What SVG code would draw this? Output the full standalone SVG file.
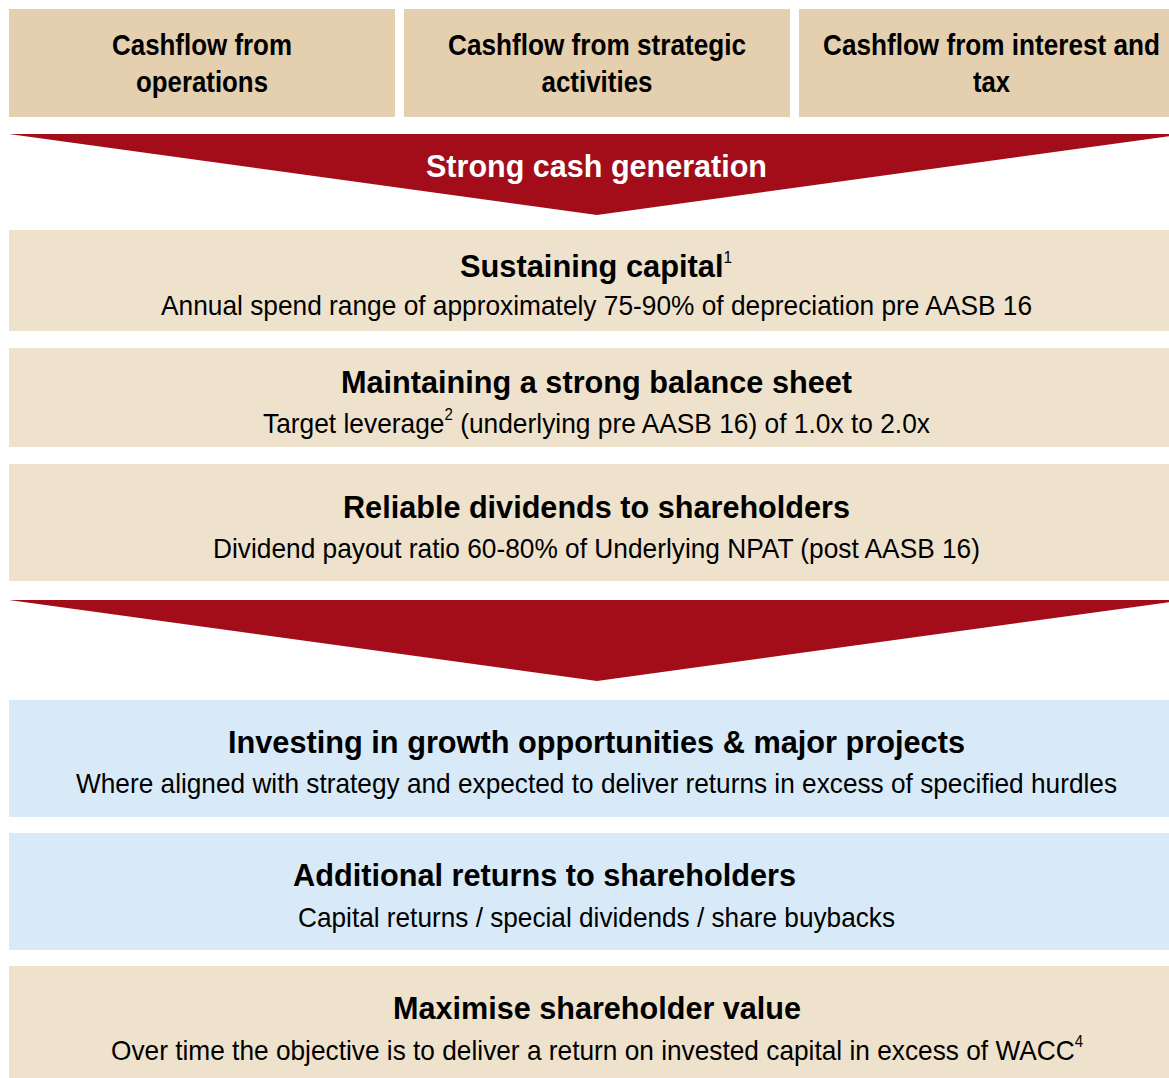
<svg xmlns="http://www.w3.org/2000/svg" width="1169" height="1078" viewBox="0 0 1169 1078">
<style>
.top{fill:#E4CFAE}
.tan{fill:#EEE2CD}
.blue{fill:#D8EAF8}
.arr{fill:#A30D1A}
text{font-family:"Liberation Sans Narrow","Arial Narrow","Liberation Sans",sans-serif;text-anchor:middle;fill:#000}
.h{font-weight:bold;font-size:32px}
.s{font-size:28px}
.tb{font-weight:bold;font-size:30px}
.w{fill:#fff;font-weight:bold;font-size:32px}
.sup{font-size:16px;font-weight:normal}
</style>
<rect width="1169" height="1078" fill="#fff"/>
<g id="n1"><rect class="top" x="9" y="9" width="386" height="108"/><text class="tb" x="202" y="55" textLength="180" lengthAdjust="spacingAndGlyphs">Cashflow from</text><text class="tb" x="202" y="92" textLength="132" lengthAdjust="spacingAndGlyphs">operations</text></g>
<g id="n2"><rect class="top" x="404" y="9" width="386" height="108"/><text class="tb" x="597" y="55" textLength="298" lengthAdjust="spacingAndGlyphs">Cashflow from strategic</text><text class="tb" x="597" y="92" textLength="111" lengthAdjust="spacingAndGlyphs">activities</text></g>
<g id="n3"><rect class="top" x="799" y="9" width="370" height="108"/><text class="tb" x="991.5" y="55" textLength="337" lengthAdjust="spacingAndGlyphs">Cashflow from interest and</text><text class="tb" x="991.5" y="92" textLength="37" lengthAdjust="spacingAndGlyphs">tax</text></g>
<g id="connectors">
<polygon class="arr" points="9,134 1185,134 597,215"/>
<polygon class="arr" points="9,600 1185,600 597,681"/>
</g>
<g id="arrow-label"><text class="w" x="596.5" y="177" textLength="341" lengthAdjust="spacingAndGlyphs">Strong cash generation</text></g>
<g id="n4"><rect class="tan" x="9" y="230" width="1160" height="101"/><text class="h" x="596" y="277" textLength="272" lengthAdjust="spacingAndGlyphs">Sustaining capital<tspan class="sup" dy="-14">1</tspan></text><text class="s" x="596.5" y="315" textLength="871" lengthAdjust="spacingAndGlyphs">Annual spend range of approximately 75-90% of depreciation pre AASB 16</text></g>
<g id="n5"><rect class="tan" x="9" y="348" width="1160" height="99"/><text class="h" x="596.5" y="393" textLength="511" lengthAdjust="spacingAndGlyphs">Maintaining a strong balance sheet</text><text class="s" x="596.5" y="433" textLength="667" lengthAdjust="spacingAndGlyphs">Target leverage<tspan class="sup" dy="-13">2</tspan><tspan dy="13"> (underlying pre AASB 16) of 1.0x to 2.0x</tspan></text></g>
<g id="n6"><rect class="tan" x="9" y="464" width="1160" height="117"/><text class="h" x="596.5" y="518" textLength="507" lengthAdjust="spacingAndGlyphs">Reliable dividends to shareholders</text><text class="s" x="596.5" y="558" textLength="767" lengthAdjust="spacingAndGlyphs">Dividend payout ratio 60-80% of Underlying NPAT (post AASB 16)</text></g>
<g id="n7"><rect class="blue" x="9" y="700" width="1160" height="117"/><text class="h" x="596.5" y="753" textLength="737" lengthAdjust="spacingAndGlyphs">Investing in growth opportunities &amp; major projects</text><text class="s" x="596.5" y="793" textLength="1041" lengthAdjust="spacingAndGlyphs">Where aligned with strategy and expected to deliver returns in excess of specified hurdles</text></g>
<g id="n8"><rect class="blue" x="9" y="833" width="1160" height="117"/><text class="h" x="544.5" y="886" textLength="503" lengthAdjust="spacingAndGlyphs">Additional returns to shareholders</text><text class="s" x="596.5" y="927" textLength="597" lengthAdjust="spacingAndGlyphs">Capital returns / special dividends / share buybacks</text></g>
<g id="n9"><rect class="tan" x="9" y="966" width="1160" height="112"/><text class="h" x="597" y="1019" textLength="408" lengthAdjust="spacingAndGlyphs">Maximise shareholder value</text><text class="s" x="597" y="1060" textLength="972" lengthAdjust="spacingAndGlyphs">Over time the objective is to deliver a return on invested capital in excess of WACC<tspan class="sup" dy="-13">4</tspan></text></g>
</svg>
